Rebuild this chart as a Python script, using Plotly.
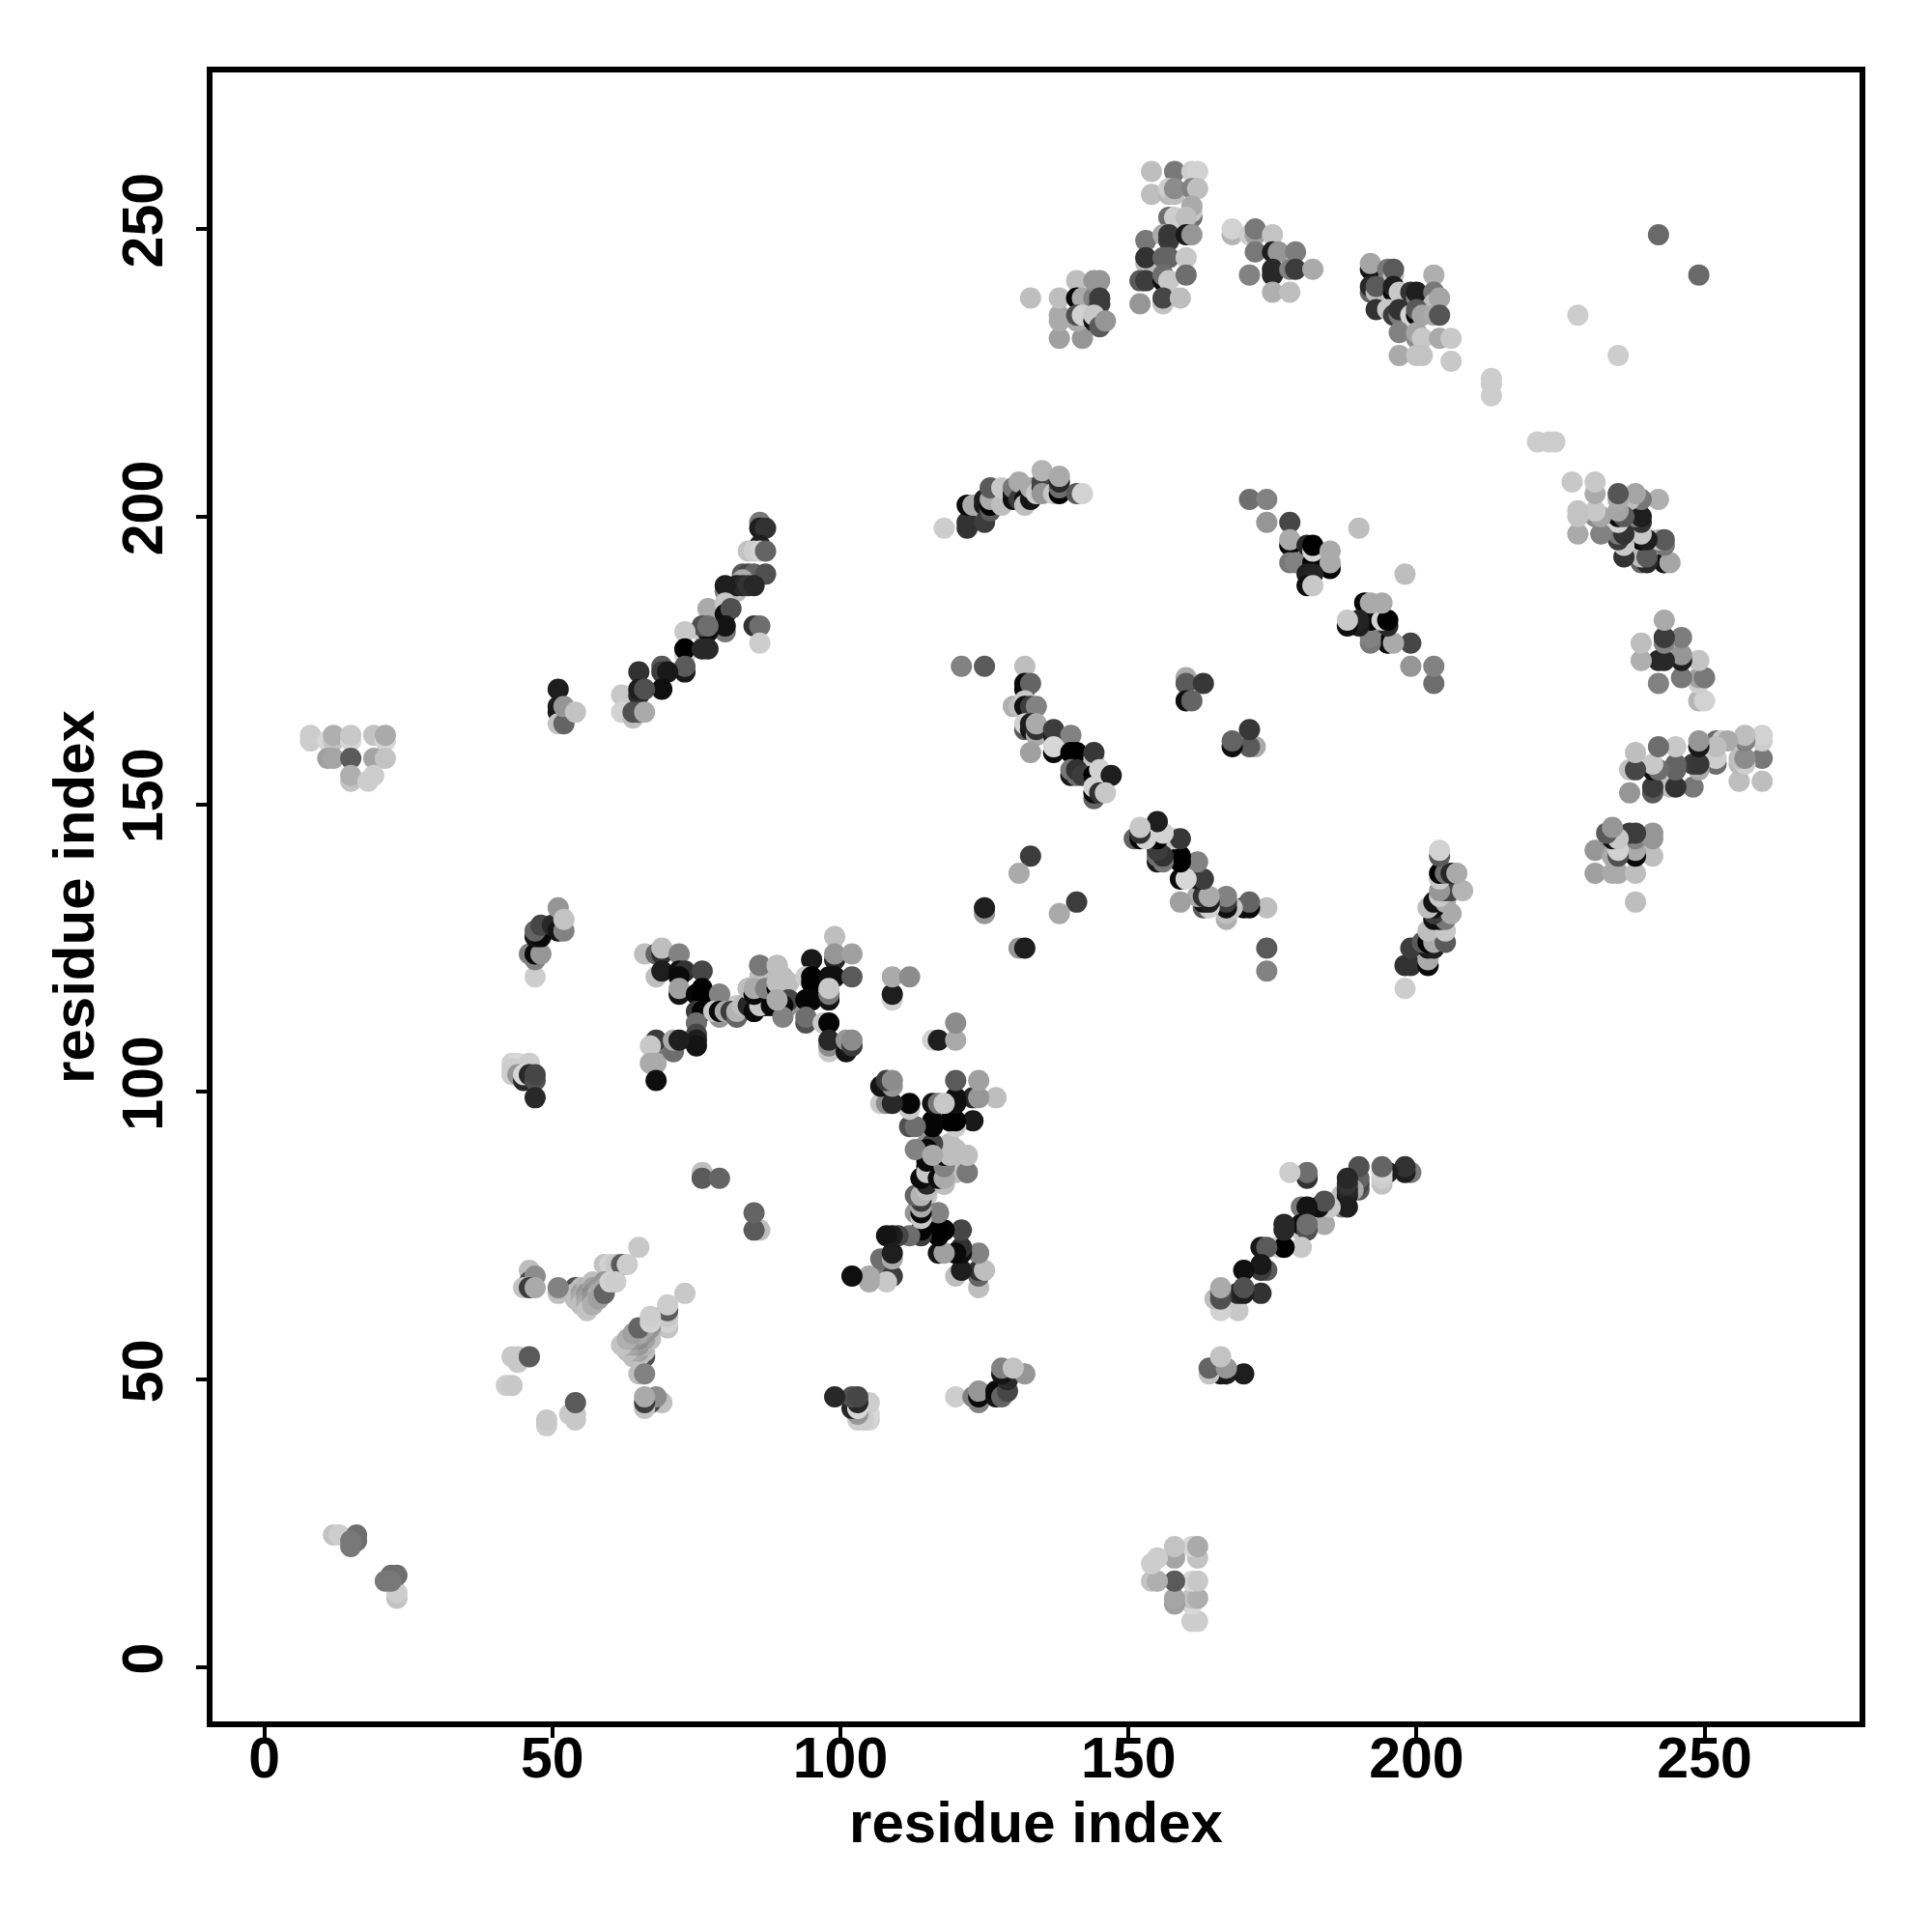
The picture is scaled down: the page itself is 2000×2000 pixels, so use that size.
import plotly.graph_objects as go

# contacts as (residue i, residue j, grey level), i < j; the map is symmetric
far_left = [(8,162,205),(8,161,205),(11,161,215),(12,161,195),(12,162,175),(15,161,215),(15,162,200),(19,162,195),
            (21,161,215),(21,162,170),(11,158,160),(12,158,165),(15,158,90),(19,158,165),(21,158,195),
            (15,154,195),(15,155,175),(18,154,205),(19,155,205)]
small_diag = [(12,23,195),(13,23,205),(16,23,110),(16,22,110),(15,21,120),(15,22,120)]
near_51_167 = [(51,170,30),(51,167,30),(51,166,25),(51,164,195),(52,164,100),(52,167,150),(54,166,195)]
near_50_128 = [(47,120,205),(47,123,130),(46,124,130),(47,124,10),(48,124,150),(47,127,20),(48,127,10),(47,128,100),
               (48,129,70),(50,129,40),(51,128,20),(52,128,130),(51,132,150),(52,130,195)]
near_45_103 = [(43,105,210),(44,105,215),(46,105,205),(43,104,205),(43,103,205),(44,103,150),(45,102,40),(45,103,215),
               (46,103,40),(47,102,80),(47,103,70),(47,99,40)]
low_cluster = [(59,70,195),(60,70,210),(61,70,200),(62,70,90),(63,70,205),(65,73,200),
               (54,66,80),(54,65,190),(54,64,190),(55,66,190),(55,65,160),(55,64,170),(55,63,190),
               (56,66,180),(56,65,150),(56,64,160),(56,63,170),(56,62,195),(57,67,190),(57,66,160),(57,65,140),
               (57,64,150),(57,63,175),(58,66,150),(58,65,170),(58,64,160),(59,67,150),(59,66,165),(59,65,100),
               (60,67,210),(61,67,205),(51,65,190),(51,66,130),(46,69,190),(46,67,70),(47,68,140),(45,66,195),
               (46,66,60),(47,66,170),(44,54,200),(43,54,200),(44,53,200),(46,54,90),(42,49,205),(43,49,200),
               (76,86,190),(76,85,90),(79,85,100)]
centre_cross = [(87,115,10),(85,115,20),(85,114,15),(83,115,40),(79,115,10),(89,115,20),(89,118,30),(91,116,60),
                (85,117,20),(90,114,130),(91,115,150),(82,114,170),(82,115,200),(79,114,170),(77,115,170),(79,117,130),
                (91,119,190),(90,120,190),(89,122,180),(88,117,110),(87,118,140),(87,120,160),(86,122,100),(84,118,150),
                (86,120,190)]
bar_70_120 = [(66,124,190),(68,124,100),(69,124,50),(69,125,190),(72,124,130),(68,120,190),(69,121,30),(72,121,15),
              (73,121,50),(76,121,70),(72,120,10),(72,117,20),(72,118,160),(75,117,5),(76,118,5),(76,117,0),(79,117,130),
              (75,114,60),(76,114,5),(75,112,110),(75,110,70),(75,109,30),(75,108,20),(79,113,150),(78,114,200),(79,114,10),
              (80,114,170),(81,114,60),(82,113,100),(82,114,180),(83,115,190),(84,115,40),(85,114,10),(86,115,200),
              (88,115,10),(86,122,120),(84,118,190),(85,117,10),(85,118,170),(87,118,130),(89,122,190),(89,118,10),
              (90,118,20),(89,119,190),(90,120,190),(91,119,190),(91,116,70),(90,115,10),(90,113,130),(89,116,170),
              (95,123,25),(94,120,205),(95,120,0),(95,119,0),(94,116,5),(95,116,5),(94,112,80),(94,113,110),
              (99,127,190),(99,123,40),(99,124,150),(102,124,160),(98,120,15),(99,120,15),(102,120,90),(98,116,20),
              (98,117,120),(98,118,200),(97,112,200),(98,112,5),(98,107,200),(98,108,140),(98,109,40),(101,107,20),
              (101,109,150),(102,108,60),(102,109,140),(68,107,120),(68,109,60),(67,108,200),(67,105,170),(68,105,170),
              (68,102,15),(71,107,110),(71,109,170),(72,109,30),(109,116,210),(109,117,30),(109,120,170),(112,120,140)]
diag_65_199 = [(86,199,120),(86,198,30),(87,198,50),(86,195,30),(84,194,195),(85,194,205),(86,194,210),(87,194,100),
               (83,190,90),(84,190,70),(85,190,100),(87,190,80),(83,189,170),(82,187,190),(80,187,130),(82,188,30),
               (83,188,40),(84,188,50),(85,188,40),(80,188,30),(77,184,170),(80,185,200),(80,183,15),(81,184,80),
               (80,180,120),(80,181,20),(76,180,200),(77,180,15),(76,181,80),(77,181,110),(73,180,200),(73,176,205),
               (73,177,0),(76,177,40),(77,177,40),(73,173,25),(73,174,90),(69,174,90),(69,173,60),(70,173,25),
               (69,170,15),(65,173,50),(62,169,200),(64,169,200),(65,169,40),(65,170,30),(66,170,80),
               (62,166,210),(64,165,190),(64,166,80),(65,166,80),(66,166,170),(85,181,50),(86,181,110),(86,178,205)]
arc_118_142 = [(118,198,205),(122,198,50),(122,199,50),(122,202,10),(123,202,170),(125,199,60),(125,202,25),(125,203,30),
               (126,201,90),(126,202,0),(126,203,170),(126,205,90),(128,202,190),(128,205,200),(130,204,20),(130,203,15),
               (130,205,120),(131,203,60),(131,206,170),(132,203,15),(132,202,190),(133,203,20),(133,205,170),(134,204,200),
               (135,205,60),(135,206,70),(135,204,150),(135,208,180),(137,204,200),(138,204,0),(138,205,110),(138,206,40),
               (138,207,170),(141,204,90),(142,204,210)]
diag_132_174 = [(121,174,130),(125,174,90),(132,174,190),(132,170,10),(132,171,10),(133,171,100),(130,167,175),(131,167,190),
                (132,168,200),(132,167,15),(133,167,60),(134,167,130),(132,163,90),(132,164,210),(133,163,20),(133,164,30),
                (134,162,170),(134,163,50),(134,164,170),(137,162,30),(137,163,60),(140,162,130),(137,159,10),(137,160,215),
                (133,159,160),(140,159,0),(141,159,0),(144,158,200),(144,159,55),(140,155,25),(140,156,120),(141,155,110),
                (141,156,50),(142,155,60),(144,155,0),(145,156,210),(147,155,30),(144,151,100),(144,152,10),(144,153,210),
                (145,152,50),(146,152,200)]
isolated = [(160,172,170),(160,171,90),(163,171,55),(160,168,15),(161,168,100),(133,141,60),(131,138,170),(125,131,150),
            (125,132,30)]
group_138_145 = [(133,238,190),(138,231,160),(138,234,170),(138,235,170),(138,238,190),(142,231,150),(141,241,190),
                 (141,238,10),(142,238,170),(144,238,130),(144,241,150),(145,241,150),(145,237,60),(145,238,60),
                 (141,234,170),(141,235,80),(142,235,210),(144,234,20),(144,235,200),(145,233,90),(146,234,150)]
group_152_162 = [(154,260,190),(158,260,120),(161,260,205),(162,260,210),(154,256,190),(157,256,185),(157,257,205),
                 (158,256,190),(158,257,140),(161,257,130),(162,257,190),(161,252,110),(161,253,200),(161,254,170),
                 (157,252,110),(158,252,205),(160,252,190),(153,248,120),(156,249,170),(157,248,60),(157,249,55),
                 (160,249,25),(161,249,150),(153,244,190),(153,245,50),(156,245,100),(157,245,100),(160,245,200),
                 (152,241,90),(153,241,60),(156,241,15),(156,242,110),(157,241,200),(160,242,110),(152,237,150),
                 (156,237,195),(156,238,70),(159,238,190)]
group_168_182 = [(168,249,180),(168,250,210),(171,249,205),(172,249,160),(172,250,120),(175,249,195),(172,246,120),
                 (175,246,30),(176,246,150),(179,246,125),(171,242,130),(175,242,40),(175,243,40),(178,243,130),
                 (179,243,60),(182,243,170),(175,239,175),(178,239,190)]
group_192_206 = [(192,243,20),(192,244,165),(195,243,120),(196,242,195),(196,243,90),(192,239,100),(192,240,40),
                 (193,239,190),(193,240,90),(196,239,10),(196,240,30),(197,239,200),(199,239,50),(200,238,130),(200,239,30),
                 (203,242,175),(203,239,120),(203,237,190),(204,238,165),(193,236,50),(195,236,200),(196,235,60),(197,235,120),
                 (197,236,50),(199,235,210),(200,235,10),(200,236,90),(201,235,165),(203,235,170),(204,235,85),(197,232,130),
                 (200,231,140),(200,232,165),(201,231,200),(204,231,170),(206,231,200),(197,228,170),(200,228,195),(201,228,195),
                 (206,227,200),(213,221,205),(213,223,205),(213,224,205),(228,235,205),(242,249,105)]
group_171_185 = [(171,203,110),(174,203,130),(174,199,150),(178,199,70),(178,195,5),(178,196,170),(178,192,120),(179,192,130),
                 (181,195,40),(182,192,5),(182,194,210),(182,195,0),(185,191,5),(185,192,170),(185,194,170),(181,190,30),
                 (182,190,35),(181,188,15),(182,188,200),(190,198,190)]

clusters = [far_left, small_diag, near_51_167, near_50_128, near_45_103, low_cluster, centre_cross, bar_70_120, diag_65_199,
            arc_118_142, diag_132_174, isolated, group_138_145, group_152_162, group_168_182, group_192_206,
            group_171_185]

tick_values = [0, 50, 100, 150, 200, 250]
axis_label = "residue index"

xs, ys, colours = [], [], []
for cluster in clusters:
    for i, j, g in cluster:
        c = f"rgb({g},{g},{g})"
        xs += [i, j]
        ys += [j, i]
        colours += [c, c]

fig = go.Figure(go.Scatter(x=xs, y=ys, mode="markers", cliponaxis=True,
                           marker=dict(size=22, color=colours, line=dict(width=0)), hoverinfo="skip"))
font_bold = "Liberation Sans"
axis_common = dict(tickvals=tick_values, ticks="outside", ticklen=11, tickwidth=4, tickcolor="black",
                   showgrid=False, zeroline=False, showline=True, linewidth=6, linecolor="black", mirror=True,
                   tickfont=dict(family=font_bold, size=59, color="black", weight="bold"))
fig.update_layout(width=2000, height=2000, autosize=False, paper_bgcolor="white", plot_bgcolor="white",
                  margin=dict(l=212, r=83, t=67, b=226), showlegend=False)
fig.update_xaxes(range=[-9.0, 276.9], ticklabelstandoff=-30, title=dict(text=axis_label, standoff=0,
                 font=dict(family=font_bold, size=60, color="black", weight="bold")), **axis_common)
fig.update_yaxes(range=[-9.4, 277.2], tickangle=-90, ticklabelstandoff=11, title=dict(text=axis_label, standoff=0,
                 font=dict(family=font_bold, size=60, color="black", weight="bold")), **axis_common)
fig.write_html("out.html")
